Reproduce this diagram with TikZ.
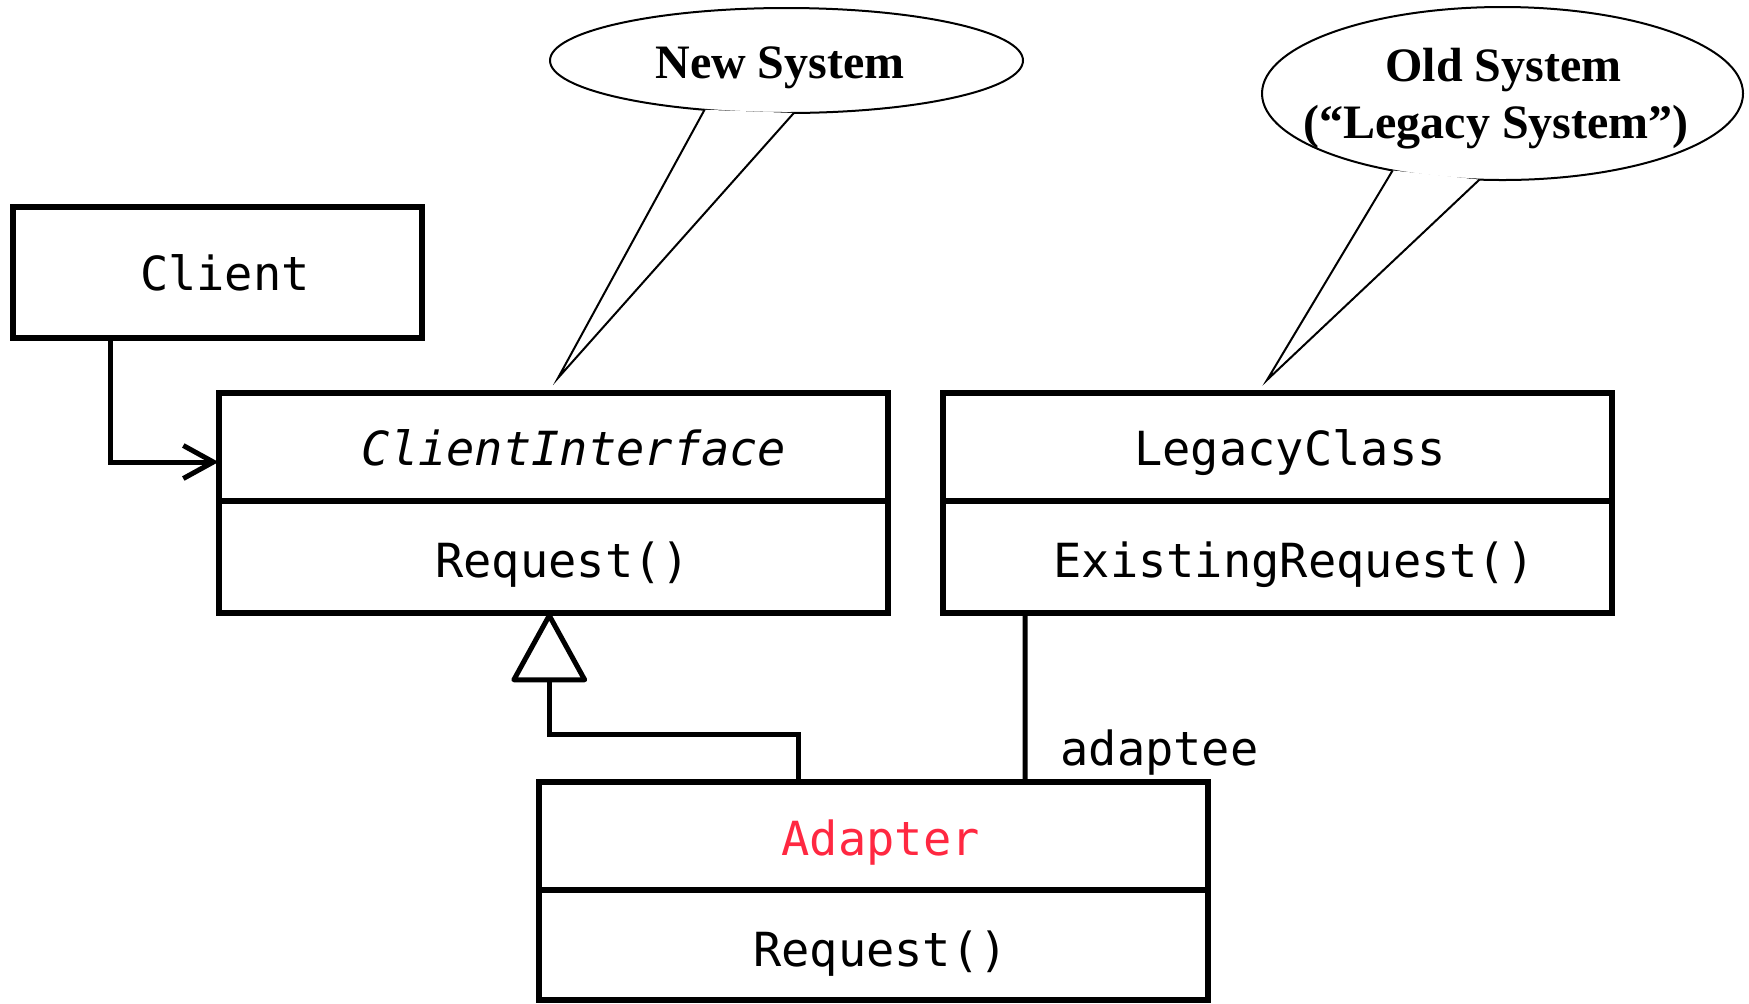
\documentclass[tikz,border=0pt]{standalone}
\usepackage{fontspec}
\setmainfont{Liberation Serif}
\newfontfamily\codefont{DejaVu Sans Mono}
\usetikzlibrary{shapes.geometric,arrows.meta}
\definecolor{adapterred}{RGB}{255,40,65}
\begin{document}
\begin{tikzpicture}[x=0.5pt,y=-0.5pt,
  classbox/.style={draw, line width=3pt, rectangle, inner sep=0pt, outer sep=0pt, anchor=north west},
  code/.style={font=\codefont\fontsize{23.5pt}{28pt}\selectfont, inner sep=0pt, anchor=base},
  bubble/.style={draw, line width=1pt, ellipse, fill=white, inner sep=0pt, outer sep=0pt},
  bubbletext/.style={font=\bfseries\fontsize{24pt}{28pt}\selectfont, inner sep=0pt, anchor=base},
  link/.style={line width=2.5pt},
  tail/.style={line width=1pt, line join=miter},
]
\useasboundingbox (0,0) rectangle (1749,1003);

% ---- speech bubbles ----
\node[bubble, minimum width=236.5pt, minimum height=52.5pt] (newsys) at (786.5,60.5) {};
\coordinate (newsys-tip) at (558,378);
\fill[white] (newsys.211) -- (newsys-tip) -- (newsys.278) -- cycle;
\draw[tail] (newsys.211) -- (newsys-tip) -- (newsys.278);
\node[bubbletext] (newsys-text) at (780,78) {New System};

\node[bubble, minimum width=240.5pt, minimum height=86.5pt] (oldsys) at (1502.5,93.5) {};
\coordinate (oldsys-tip) at (1267,380);
\fill[white] (oldsys.215) -- (oldsys-tip) -- (oldsys.255) -- cycle;
\draw[tail] (oldsys.215) -- (oldsys-tip) -- (oldsys.255);
\node[bubbletext] (oldsys-l1) at (1503.5,81.7) {Old System};
\node[bubbletext] (oldsys-l2) at (1496,138.5) {(“Legacy System”)};

% ---- classes ----
\node[classbox, minimum width=204.5pt, minimum height=65.75pt] (client) at (13,206.5) {};
\node[code] (client-name) at (225,290) {Client};

\node[classbox, minimum width=334.75pt, minimum height=54pt] (ci) at (218.5,392.5) {};
\node[classbox, minimum width=334.75pt, minimum height=56pt] (ci-ops) at (218.5,501) {};
\node[code, font=\codefont\itshape\fontsize{23.5pt}{28pt}\selectfont] (ci-name) at (574,465) {ClientInterface};
\node[code] (ci-op) at (562.6,577) {Request()};

\node[classbox, minimum width=334.5pt, minimum height=54pt] (lc) at (943,392.5) {};
\node[classbox, minimum width=334.5pt, minimum height=56pt] (lc-ops) at (943,501) {};
\node[code] (lc-name) at (1290,465) {LegacyClass};
\node[code] (lc-op) at (1294,577) {ExistingRequest()};

\node[classbox, minimum width=334.75pt, minimum height=54pt] (ad) at (538.5,782) {};
\node[classbox, minimum width=334.75pt, minimum height=55pt] (ad-ops) at (538.5,890) {};
\node[code, text=adapterred] (ad-name) at (880.7,855) {Adapter};
\node[code] (ad-op) at (880.5,966) {Request()};

% ---- relations ----
\draw[link, -{Straight Barb[length=15pt,width=16.5pt]}]
  ([xshift=-53.5pt]client.south) |- ([yshift=-7.75pt]ci.west);
\draw[link, -{Triangle[open,round,length=36pt,width=39pt,fill=white]}]
  ([xshift=-37.6pt]ad.north) -- ++(0,-48) -| ([xshift=-2pt]ci-ops.south);
\draw[link] ([xshift=-126.25pt,yshift=1.5pt]lc-ops.south) -- ([xshift=75.9pt]ad.north);
\node[code, anchor=base west] (adaptee) at (1060,765) {adaptee};
\end{tikzpicture}
\end{document}
